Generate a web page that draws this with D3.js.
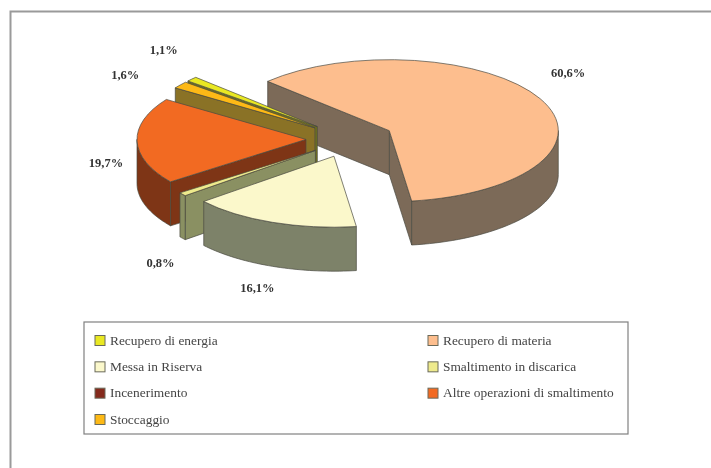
<!DOCTYPE html>
<html><head><meta charset="utf-8">
<script src="https://cdn.jsdelivr.net/npm/d3@7"></script>
<style>html,body{margin:0;background:#fff}svg{display:block}</style>
</head><body><svg id="c" width="711" height="468"></svg>
<script>
const sliceNames=["Recupero di materia","Messa in Riserva","Smaltimento in discarica","Altre operazioni di smaltimento","Stoccaggio","Recupero di energia"];
const sliceValues=[60.6,16.1,0.8,19.7,1.6,1.1];
const sliceLabels=["60,6%","16,1%","0,8%","19,7%","1,6%","1,1%"];
const legendRows=[["Recupero di energia","Recupero di materia"],["Messa in Riserva","Smaltimento in discarica"],["Incenerimento","Altre operazioni di smaltimento"],["Stoccaggio"]];
const topColors={"Recupero di energia":"#e9e824","Recupero di materia":"#fdbe8e","Messa in Riserva":"#fbf8cb","Smaltimento in discarica":"#eeea8c","Incenerimento":"#85291a","Altre operazioni di smaltimento":"#f26a24","Stoccaggio":"#fdb913"};
const wallColors={"Recupero di materia":"#7c6a58","Messa in Riserva":"#7d8269","Smaltimento in discarica":"#8a9062","Altre operazioni di smaltimento":"#7e3412","Stoccaggio":"#8a7228","Recupero di energia":"#6f7020"};
// layout
const O={x:350,y:139},R=169,squash=0.42,depth=44,explode=44,rad=Math.PI/180;
const labelNudge=[[28,-26],[-15,66],[-22,69],[-31,22],[-55,-10],[-28,-29]];

const svg=d3.select("#c");
const defs=svg.append("defs");
defs.append("filter").attr("id","soft").attr("filterUnits","userSpaceOnUse").attr("x",0).attr("y",0).attr("width",711).attr("height",468)
  .append("feGaussianBlur").attr("stdDeviation",0.65);
const root=svg.append("g").attr("filter","url(#soft)");
root.append("path").attr("d",d3.line()([[711,11.5],[10.5,11.5],[10.5,468]])).attr("fill","none").attr("stroke","#9a9a9a").attr("stroke-width",2);

const pie=d3.pie().value(d=>d).sort(null).startAngle(-46*rad).endAngle(314*rad);
const arcs=pie(sliceValues);
const rScale=d3.scaleLinear().domain([0,1]).range([0,R]);
const px=(c,a,t=1)=>c.x+rScale(t)*Math.sin(a);
const py=(c,a,t=1)=>c.y-rScale(t)*Math.cos(a)*squash;
const arcGen=d3.arc().innerRadius(0).outerRadius(R);
const band=c=>d3.area().x(a=>px(c,a)).y0(a=>py(c,a)).y1(a=>py(c,a)+depth);
const edge=(c,a)=>d3.area().x(t=>px(c,a,t)).y0(t=>py(c,a,t)).y1(t=>py(c,a,t)+depth)([0,1]);
const ink="#4a4a42";
const centers=arcs.map(d=>{const m=(d.startAngle+d.endAngle)/2;return {x:O.x+explode*Math.sin(m),y:O.y-explode*Math.cos(m)*squash};});
const order=[0,5,4,3,2,1];
order.forEach(i=>{
  const d=arcs[i],c=centers[i],name=sliceNames[i],g=root.append("g");
  const wall=p=>g.append("path").attr("d",p).attr("fill",wallColors[name]).attr("stroke",ink).attr("stroke-width",0.7).attr("stroke-linejoin","round");
  if(Math.sin(d.endAngle)>0) wall(edge(c,d.endAngle));
  if(Math.sin(d.startAngle)<0) wall(edge(c,d.startAngle));
  const lo=Math.max(d.startAngle,Math.PI/2),hi=Math.min(d.endAngle,1.5*Math.PI);
  if(hi>lo) wall(band(c)(d3.range(0,41).map(k=>lo+(hi-lo)*k/40)));
  g.append("g").attr("transform",`translate(${c.x},${c.y}) scale(1,${squash})`)
   .append("path").attr("d",arcGen(d)).attr("fill",topColors[name]).attr("stroke",ink).attr("stroke-width",0.7)
   .attr("vector-effect","non-scaling-stroke").attr("stroke-linejoin","round");
  const m=(d.startAngle+d.endAngle)/2;
  root.append("text").attr("x",px(c,m)+labelNudge[i][0]).attr("y",py(c,m)+labelNudge[i][1]+4)
    .attr("text-anchor","middle").attr("font-family","Liberation Serif").attr("font-weight","bold").attr("font-size",12.5)
    .attr("fill","#333").text(sliceLabels[i]);
});
root.selectAll("text").raise();

const lg=root.append("g");
lg.append("rect").attr("x",84).attr("y",322).attr("width",544).attr("height",112).attr("fill","#fff").attr("stroke","#808080").attr("stroke-width",1.2);
const colX=d3.scaleOrdinal().domain([0,1]).range([95,428]);
const rowY=d3.scaleLinear().domain([0,3]).range([340.5,419.5]);
legendRows.forEach((row,r)=>row.forEach((name,k)=>{
  lg.append("rect").attr("x",colX(k)).attr("y",rowY(r)-5).attr("width",10).attr("height",10).attr("fill",topColors[name]).attr("stroke","#6b6b5a").attr("stroke-width",1);
  lg.append("text").attr("x",colX(k)+15).attr("y",rowY(r)+4).attr("font-family","Liberation Serif").attr("font-size",13.4).attr("fill","#444").text(name);
}));
</script></body></html>
